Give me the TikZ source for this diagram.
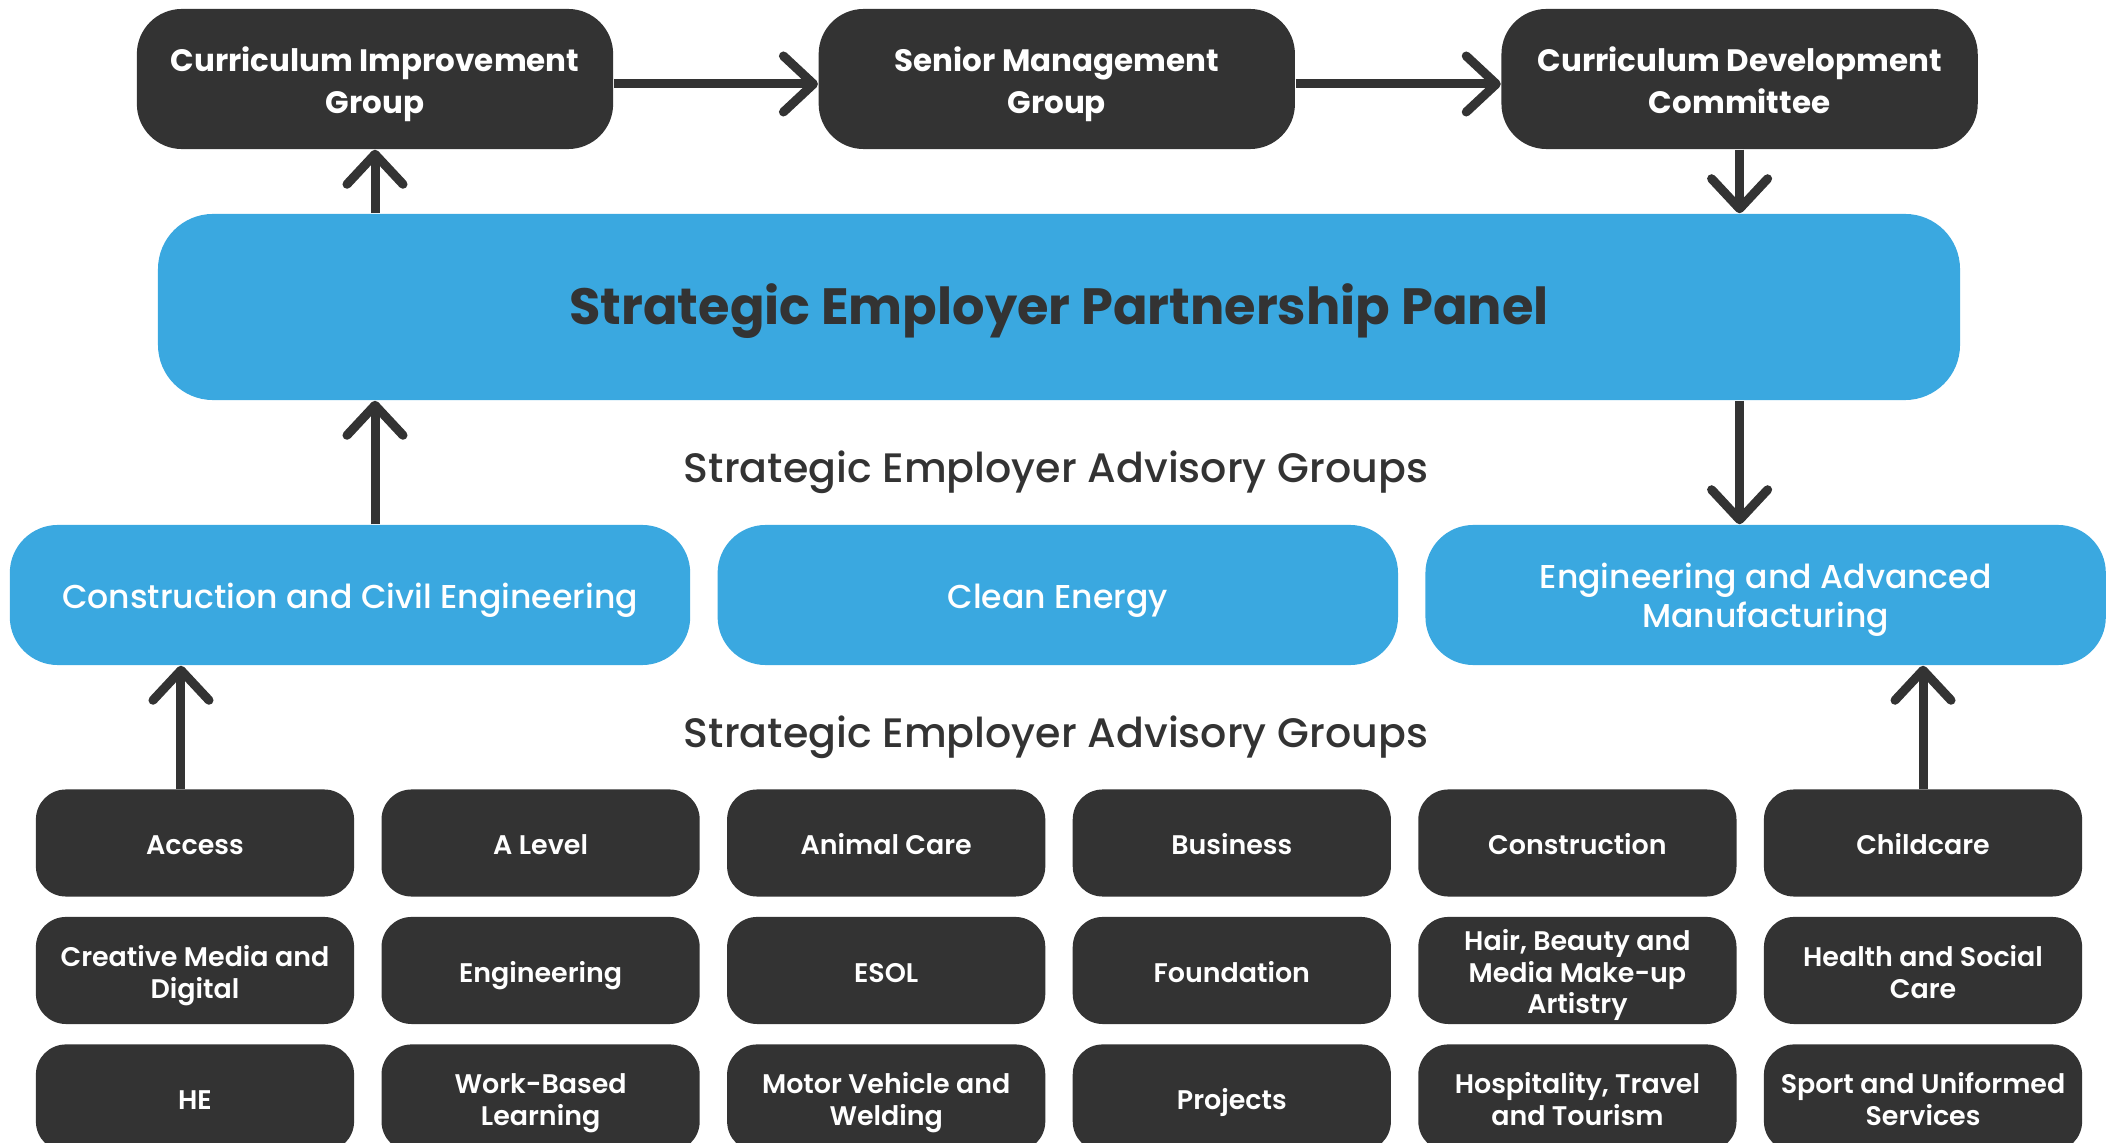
\documentclass[tikz,border=0pt]{standalone}
\usepackage{fontspec}
\setmainfont{Poppins}
\newfontfamily\popmedium{Poppins Medium}
\newfontfamily\popsemi{Poppins SemiBold}
\usetikzlibrary{arrows.meta,positioning}
\definecolor{darkbox}{HTML}{333333}
\definecolor{panelblue}{HTML}{3AA8E0}

\begin{document}
\begin{tikzpicture}[x=0.01cm,y=-0.01cm,
        >={Straight Barb[length=3mm,width=5.6mm,line cap=round,line join=round]},
        link/.style={->,draw=darkbox,line width=0.9mm},
        % taller first line pushes the lines a little down in the box
        struts/.style={execute at begin node={\rule{0pt}{#1}},
            execute at end node={\rule[-0.3\baselineskip]{0pt}{0.3\baselineskip}}},
        board/.style={rectangle,fill=darkbox,text=white,rounded corners=0.45cm,
            minimum width=4.76cm,minimum height=1.4cm,text width=4.5cm,
            align=flush center,struts=11.3pt,
            font=\bfseries\fontsize{8.8}{11.8}\selectfont},
        panel/.style={rectangle,fill=panelblue,text=darkbox,rounded corners=0.55cm,
            minimum width=18.01cm,minimum height=1.86cm,struts=15.6pt,
            font=\bfseries\fontsize{14.5}{18}\selectfont},
        sector/.style={rectangle,fill=panelblue,text=white,rounded corners=0.48cm,
            minimum width=6.8cm,minimum height=1.4cm,text width=6.4cm,
            align=flush center,struts=10.8pt,
            font=\popmedium\fontsize{9.4}{11.2}\selectfont},
        subject/.style={rectangle,fill=darkbox,text=white,rounded corners=0.3cm,
            minimum width=3.18cm,minimum height=1.07cm,inner xsep=1pt,inner ysep=0pt,
            text width=3.1cm,align=flush center,struts=9.4pt,
            font=\popsemi\fontsize{7.65}{9}\selectfont},
        heading/.style={text=darkbox,struts=11.4pt,
            font=\popmedium\fontsize{11.7}{14}\selectfont}]

    \clip (0,0) rectangle (2111,1143);

    % boards at the top
    \node[board] (cig) at (375,79) {Curriculum Improvement\\Group};
    \node[board] (smg) [right=2.04cm of cig] {Senior Management\\Group};
    \node[board] (cdc) [right=2.05cm of smg] {Curriculum Development\\Committee};

    \node[panel] (sepp) at (1059,307) {Strategic Employer Partnership Panel};

    \node[heading] (upper) at (1056,470) {Strategic Employer Advisory Groups};

    % advisory sectors
    \node[sector] (cce) at (350,595) {Construction and Civil Engineering};
    \node[sector] (clean) [right=0.26cm of cce] {Clean Energy};
    \node[sector] (eam) [right=0.26cm of clean] {Engineering and Advanced\\Manufacturing};

    \node[heading] (lower) at (1056,735) {Strategic Employer Advisory Groups};

    % subject areas
    \node[subject] (access) at (195,843) {Access};
    \node[subject] (alevel) [right=0.26cm of access] {A Level};
    \node[subject] (animal) [right=0.26cm of alevel] {Animal Care};
    \node[subject] (business) [right=0.26cm of animal] {Business};
    \node[subject] (construction) [right=0.26cm of business] {Construction};
    \node[subject] (childcare) [right=0.26cm of construction] {Childcare};

    \node[subject] (media) [below=0.19cm of access] {Creative Media and\\Digital};
    \node[subject] (engineering) [right=0.26cm of media] {Engineering};
    \node[subject] (esol) [right=0.26cm of engineering] {ESOL};
    \node[subject] (foundation) [right=0.26cm of esol] {Foundation};
    \node[subject] (hair) [right=0.26cm of foundation] {Hair, Beauty and\\Media Make-up\\Artistry};
    \node[subject] (health) [right=0.26cm of hair] {Health and Social\\Care};

    \node[subject] (he) [below=0.19cm of media] {HE};
    \node[subject] (wbl) [right=0.26cm of he] {Work-Based\\Learning};
    \node[subject] (motor) [right=0.26cm of wbl] {Motor Vehicle and\\Welding};
    \node[subject] (projects) [right=0.26cm of motor] {Projects};
    \node[subject] (hospitality) [right=0.26cm of projects] {Hospitality, Travel\\and Tourism};
    \node[subject] (sport) [right=0.26cm of hospitality] {Sport and Uniformed\\Services};

    % connectors
    \draw[link] ([yshift=-0.05cm]cig.east) -- ([yshift=-0.05cm]smg.west);
    \draw[link] ([yshift=-0.05cm]smg.east) -- ([yshift=-0.05cm]cdc.west);
    \draw[link] (sepp.north -| cig) -- (cig);
    \draw[link] (cdc) -- (sepp.north -| cdc);
    \draw[link] (sepp.south -| cdc) -- (eam.north -| cdc);
    \draw[link] (cce.north -| cig) -- (sepp.south -| cig);
    \coordinate (accessfoot) at ([xshift=-0.14cm]access.north);
    \draw[link] (accessfoot) -- (accessfoot |- cce.south);
    \draw[link] (childcare) -- (childcare |- eam.south);

\end{tikzpicture}
\end{document}
